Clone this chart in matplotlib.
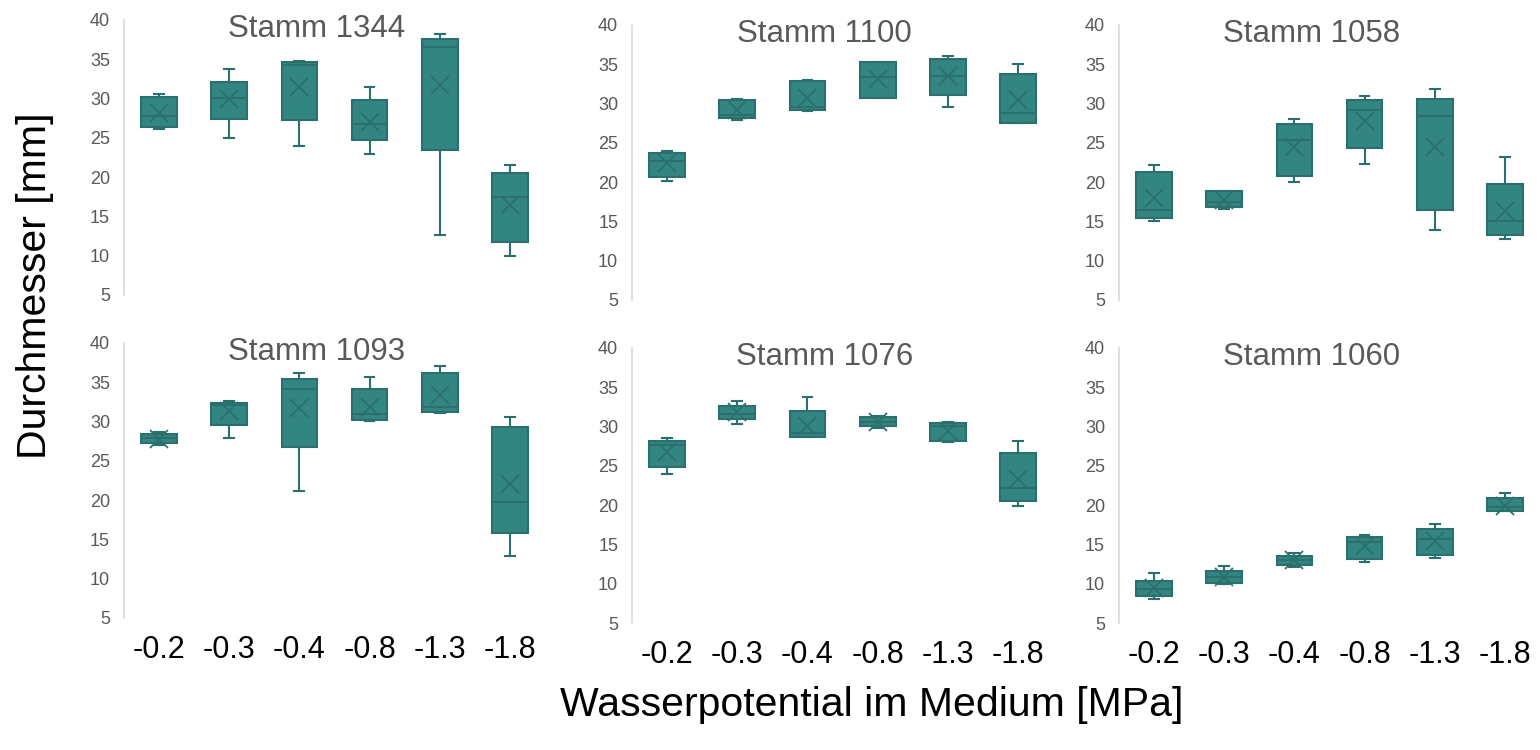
import matplotlib.pyplot as plt

plt.rcParams['font.family'] = ['Liberation Sans', 'DejaVu Sans']

# x categories (water potential, MPa)
categories = ['-0.2', '-0.3', '-0.4', '-0.8', '-1.3', '-1.8']
strains = ['Stamm 1344', 'Stamm 1100', 'Stamm 1058',
           'Stamm 1093', 'Stamm 1076', 'Stamm 1060']

# per strain: lower whisker, Q1, median, Q3, upper whisker, mean
whislo = [
    [26.1, 24.9, 24.0, 22.9, 12.6, 9.9],
    [20.1, 27.9, 29.0, 30.7, 29.6, 27.5],
    [15.0, 16.6, 20.0, 22.3, 13.9, 12.8],
    [27.0, 27.9, 21.2, 30.1, 31.1, 12.9],
    [24.0, 30.3, 28.6, 29.8, 28.0, 19.9],
    [8.05, 10.0, 12.1, 12.8, 13.3, 19.3],
]
q1 = [
    [26.3, 27.4, 27.2, 24.7, 23.4, 11.7],
    [20.6, 28.2, 29.1, 30.7, 31.1, 27.5],
    [15.4, 16.8, 20.8, 24.3, 16.5, 13.3],
    [27.3, 29.5, 26.8, 30.2, 31.2, 15.8],
    [24.9, 30.9, 28.6, 30.1, 28.2, 20.5],
    [8.5, 10.1, 12.4, 13.2, 13.6, 19.3],
]
med = [
    [27.8, 30.0, 34.2, 26.7, 36.5, 17.4],
    [22.7, 28.5, 29.6, 33.3, 33.5, 28.8],
    [16.4, 17.5, 25.3, 29.2, 28.4, 15.1],
    [27.9, 32.1, 34.1, 30.9, 31.8, 19.8],
    [27.7, 31.6, 29.1, 30.6, 30.0, 22.2],
    [9.3, 10.8, 13.0, 15.3, 15.7, 19.7],
]
q3 = [
    [30.2, 32.1, 34.6, 29.8, 37.5, 20.5],
    [23.75, 30.4, 32.8, 35.2, 35.6, 33.8],
    [21.3, 18.8, 27.4, 30.4, 30.5, 19.8],
    [28.4, 32.4, 35.4, 34.1, 36.2, 29.3],
    [28.2, 32.6, 32.0, 31.2, 30.4, 26.6],
    [10.4, 11.6, 13.5, 16.0, 17.0, 20.9],
]
whishi = [
    [30.5, 33.7, 34.7, 31.4, 38.2, 21.5],
    [24.0, 30.5, 33.0, 35.2, 36.0, 35.0],
    [22.2, 18.9, 28.0, 31.0, 31.8, 23.2],
    [28.6, 32.6, 36.1, 35.7, 37.0, 30.6],
    [28.5, 33.2, 33.8, 31.3, 30.5, 28.2],
    [11.3, 12.2, 13.9, 16.2, 17.6, 21.5],
]
means = [
    [28.1, 29.9, 31.5, 27.0, 31.7, 16.5],
    [22.4, 29.1, 30.7, 33.1, 33.5, 30.4],
    [18.0, 17.7, 24.4, 27.7, 24.5, 16.3],
    [27.8, 31.3, 31.7, 31.8, 33.4, 22.1],
    [26.7, 31.8, 30.0, 30.6, 29.4, 23.3],
    [9.5, 10.9, 13.0, 14.8, 15.4, 19.9],
]

fill = '#338582'
edge = '#2b706d'
grey = '#595959'

fig = plt.figure(figsize=(15.4, 7.5), dpi=100)

# axes rectangles [left, bottom, width, height] in figure fractions
lefts = [0.0805, 0.4104, 0.7266]
bottoms_top = [0.6067, 0.600, 0.600]
bottoms_bot = [0.176, 0.1693, 0.1693]

for k in range(6):
    row, col = divmod(k, 3)
    bottom = bottoms_top[col] if row == 0 else bottoms_bot[col]
    ax = fig.add_axes([lefts[col], bottom, 0.2734, 0.367])

    stats = []
    for i, cat in enumerate(categories):
        stats.append({'whislo': whislo[k][i], 'q1': q1[k][i], 'med': med[k][i],
                      'q3': q3[k][i], 'whishi': whishi[k][i], 'mean': means[k][i],
                      'label': cat})
    ax.bxp(stats, positions=range(len(categories)), widths=0.51, patch_artist=True,
           showmeans=True, showfliers=False,
           boxprops=dict(facecolor=fill, edgecolor=edge, linewidth=1.5),
           medianprops=dict(color=edge, linewidth=1.5),
           whiskerprops=dict(color=edge, linewidth=1.5),
           capprops=dict(color=edge, linewidth=1.5),
           capwidths=0.14,
           meanprops=dict(marker='x', markersize=13, markeredgecolor=edge,
                          markeredgewidth=1.3))

    ax.set_xlim(-0.5, len(categories) - 0.5)
    ax.set_ylim(5, 40)
    ax.set_yticks(range(5, 41, 5))
    ax.tick_params(axis='y', length=0, labelsize=13, labelcolor=grey, pad=10)
    for s in ['top', 'right', 'bottom']:
        ax.spines[s].set_visible(False)
    ax.spines['left'].set_color('#d9d9d9')
    ax.spines['left'].set_linewidth(1.2)
    if row == 1:
        ax.tick_params(axis='x', length=0, labelsize=22, labelcolor='black', pad=12)
    else:
        ax.tick_params(axis='x', length=0, labelbottom=False)

    ax.text(0.458, 0.968, strains[k], transform=ax.transAxes, ha='center',
            va='center', fontsize=22.5, color=grey)

fig.text(0.0227, 1 - 286 / 750, 'Durchmesser [mm]', rotation=90, ha='center',
         va='center', fontsize=29.5, color='black')
fig.text(872 / 1540, 1 - 705 / 750, 'Wasserpotential im Medium [MPa]', ha='center',
         va='center', fontsize=29.5, color='black')

fig.savefig('out.png', dpi=100)
